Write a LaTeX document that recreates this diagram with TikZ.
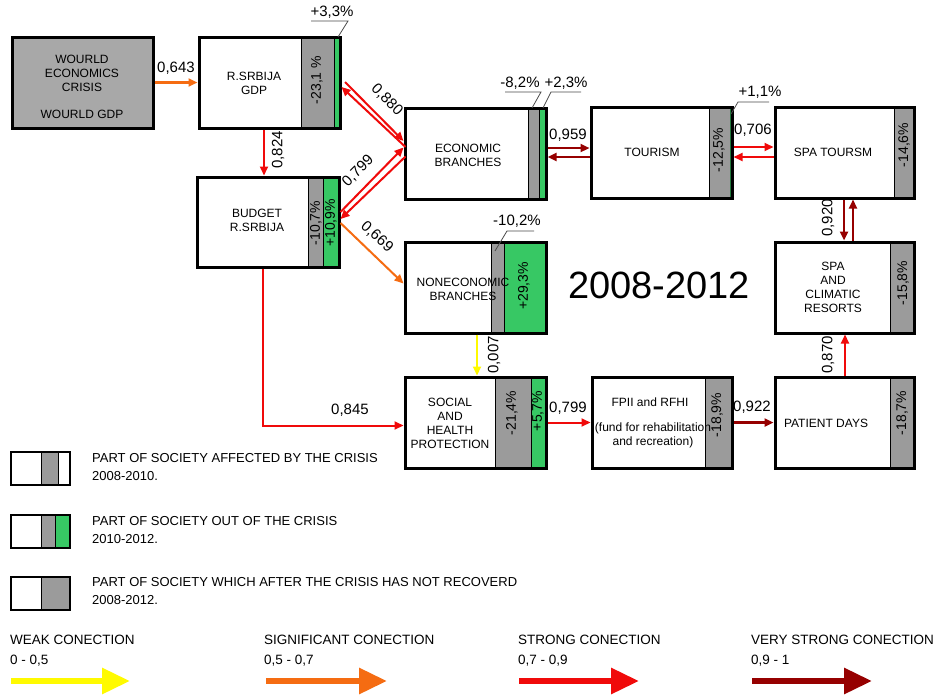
\documentclass[tikz,border=0pt]{standalone}
\usepackage{fontspec}
\setmainfont{Liberation Sans}
\usetikzlibrary{arrows.meta,calc}
\definecolor{yellowc}{RGB}{255,250,0}
\definecolor{orangec}{RGB}{245,108,18}
\definecolor{redc}{RGB}{240,10,10}
\definecolor{dredc}{RGB}{150,0,0}
\definecolor{greenc}{RGB}{55,200,100}
\definecolor{grayc}{RGB}{155,155,155}
\definecolor{wgray}{RGB}{168,168,168}
\begin{document}
\begin{tikzpicture}[x=1pt,y=-1pt,
  box/.style={draw=black, line width=3pt, rectangle, inner sep=0pt},
  btxt/.style={font=\fontsize{12}{14}\selectfont, align=center, inner sep=0pt},
  pct/.style={font=\fontsize{15}{17}\selectfont, inner sep=0pt},
  vpct/.style={font=\fontsize{14}{16}\selectfont, inner sep=0pt, rotate=90},
  clab/.style={font=\fontsize{15}{17}\selectfont, inner sep=0pt},
  vclab/.style={clab, rotate=90},
  ltxt/.style={font=\fontsize{13}{18}\selectfont, align=left, anchor=west, inner sep=0pt},
  btm/.style={font=\fontsize{13.5}{20}\selectfont, align=left, anchor=west, inner sep=0pt},
  lead/.style={line width=0.8pt, draw=black!70},
  divl/.style={line width=0.8pt, draw=black},
  weak/.style={draw=yellowc, line width=2pt, -{Triangle[length=9pt,width=8pt]}},
  signif/.style={draw=orangec, line width=2pt, -{Triangle[length=9pt,width=8pt]}},
  strongc/.style={draw=redc, line width=2pt, -{Triangle[length=9pt,width=8pt]}},
  vstrong/.style={draw=dredc, line width=2.5pt, -{Triangle[length=9pt,width=8pt]}},
  bigarrow/.style={line width=6pt, -{Triangle[length=28pt,width=25pt]}}
]
\useasboundingbox (0,0) rectangle (940,696);
\fill[white] (0,0) rectangle (940,696);

% ---------- strips ----------
% GDP
\fill[grayc] (301,37) rectangle (334,128);
\fill[greenc] (334,37) rectangle (340,128);
\draw[divl] (301,37) -- (301,128); \draw[divl] (334,37) -- (334,128);
% BUDGET
\fill[grayc] (308,177) rectangle (323,267);
\fill[greenc] (323,177) rectangle (339,267);
\draw[divl] (308,177) -- (308,267); \draw[divl] (323,177) -- (323,267);
% ECONOMIC
\fill[grayc] (528,108) rectangle (539,199);
\fill[greenc] (539,108) rectangle (546,199);
\draw[divl] (528,108) -- (528,199); \draw[divl] (539,108) -- (539,199);
% TOURISM
\fill[grayc] (709,107) rectangle (730,198);
\fill[greenc!60!black] (730,107) rectangle (732,198);
\draw[divl] (709,107) -- (709,198);
% SPA TOURISM
\fill[grayc] (894,107) rectangle (914,198);
\draw[divl] (894,107) -- (894,198);
% NONECONOMIC
\fill[grayc] (491,242) rectangle (504,333);
\fill[greenc] (504,242) rectangle (546,333);
\draw[divl] (491,242) -- (491,333); \draw[divl] (504,242) -- (504,333);
% CLIMATIC
\fill[grayc] (890,242) rectangle (914,333);
\draw[divl] (890,242) -- (890,333);
% SOCIAL
\fill[grayc] (495,377) rectangle (531,468);
\fill[greenc] (531,377) rectangle (546,468);
\draw[divl] (495,377) -- (495,468); \draw[divl] (531,377) -- (531,468);
% FPII
\fill[grayc] (705,377) rectangle (732,468);
\draw[divl] (705,377) -- (705,468);
% PATIENT
\fill[grayc] (890,377) rectangle (914,468);
\draw[divl] (890,377) -- (890,468);

% ---------- boxes ----------
\node[box, fill=wgray, minimum width=141pt, minimum height=91pt] (wc) at (82.5,82.5) {};
\node[box, minimum width=141pt, minimum height=91pt] (gdp) at (269.5,82.5) {};
\node[box, minimum width=142pt, minimum height=90pt] (bud) at (268,222) {};
\node[box, minimum width=141pt, minimum height=91pt] (eco) at (475.5,153.5) {};
\node[box, minimum width=141pt, minimum height=91pt] (tour) at (661.5,152.5) {};
\node[box, minimum width=139pt, minimum height=91pt] (spa) at (844.5,152.5) {};
\node[box, minimum width=141pt, minimum height=91pt] (non) at (475.5,287.5) {};
\node[box, minimum width=139pt, minimum height=91pt] (clim) at (844.5,287.5) {};
\node[box, minimum width=141pt, minimum height=91pt] (soc) at (475.5,422.5) {};
\node[box, minimum width=140pt, minimum height=91pt] (fpii) at (662,422.5) {};
\node[box, minimum width=139pt, minimum height=91pt] (pat) at (844.5,422.5) {};

% ---------- box texts ----------
\node[btxt] (wcT) at (82,73) {WOURLD\\ECONOMICS\\CRISIS};
\node[btxt] (wcG) at (82,114) {WOURLD GDP};
\node[btxt] (gdpT) at (254,83) {R.SRBIJA\\GDP};
\node[btxt] (budT) at (257,220) {BUDGET\\R.SRBIJA};
\node[btxt] (ecoT) at (468,155) {ECONOMIC\\BRANCHES};
\node[btxt] (tourT) at (652,152) {TOURISM};
\node[btxt] (spaT) at (833,152) {SPA TOURSM};
\node[btxt] (nonT) at (463,289) {NONECONOMIC\\BRANCHES};
\node[btxt] (climT) at (833,287) {SPA\\AND\\CLIMATIC\\RESORTS};
\node[btxt] (socT) at (450,423) {SOCIAL\\AND\\HEALTH\\PROTECTION};
\node[btxt] (fpiiT) at (650,402) {FPII and RFHI};
\node[btxt] (fpiiS) at (653,435) {(fund for rehabilitation\\and recreation)};
\node[btxt] (patT) at (826,423) {PATIENT DAYS};

% ---------- percentages in strips ----------
\node[vpct] (p1) at (317,80) {-23,1 \%};
\node[vpct] (p2) at (316,223) {-10,7\%};
\node[vpct] (p3) at (331,223) {+10,9\%};
\node[vpct] (p4) at (719,150) {-12,5\%};
\node[vpct] (p5) at (904,145) {-14,6\%};
\node[vpct] (p6) at (524,286) {+29,3\%};
\node[vpct] (p7) at (903,283) {-15,8\%};
\node[vpct] (p8) at (512,413) {-21,4\%};
\node[vpct] (p9) at (538,411) {+5,7\%};
\node[vpct] (p10) at (717,415) {-18,9\%};
\node[vpct] (p11) at (902,413) {-18,7\%};

% ---------- callout percentages ----------
\node[pct] (c1) at (332,12) {+3,3\%};
\draw[lead] (311,21) -- (348,21) -- (338,37);
\node[pct] (c2) at (520,83) {-8,2\%};
\draw[lead] (505,92) -- (541,92) -- (532,108);
\node[pct] (c3) at (566,83) {+2,3\%};
\draw[lead] (581,92) -- (551,92) -- (543,108);
\node[pct] (c4) at (760,92) {+1,1\%};
\draw[lead] (769,102) -- (738,102) -- (731,114);
\node[pct] (c5) at (517,221) {-10,2\%};
\draw[lead] (534,231) -- (507,231) -- (495,251);

% ---------- connectors ----------
\draw[signif, line width=3pt] (wc.east) -- (gdp.west);
\draw[strongc] ($(gdp.south)+(-5.5,0)$) -- ($(bud.north)+(-4,0)$);
\draw[strongc] ($(gdp.east)+(3.5,-0.5)$) -- ($(eco.west)+(0,-12.5)$);
\draw[strongc] ($(eco.west)+(2,-6.5)$) -- ($(gdp.east)+(0,4.5)$);
\draw[strongc] ($(bud.east)+(0,-10)$) -- ($(eco.west)+(0,-6)$);
\draw[strongc] ($(eco.west)+(2,3)$) -- ($(bud.east)+(0,-3)$);
\draw[signif] ($(bud.east)+(0,1)$) -- ($(non.west)+(0,-4)$);
\draw[strongc] ($(bud.south)+(-5,0)$) |- ($(soc.west)+(0,3)$);
\draw[vstrong] ($(eco.east)+(0,-5.5)$) -- ($(tour.west)+(0,-4.5)$);
\draw[vstrong] ($(tour.west)+(0,4.5)$) -- ($(eco.east)+(0,3.5)$);
\draw[strongc] ($(tour.east)+(0,-5.5)$) -- ($(spa.west)+(0,-5.5)$);
\draw[strongc] ($(spa.west)+(0,4.5)$) -- ($(tour.east)+(0,4.5)$);
\draw[vstrong] ($(spa.south)+(-0.5,0)$) -- ($(clim.north)+(-0.5,0)$);
\draw[vstrong, line width=2pt] ($(clim.north)+(8.5,0)$) -- ($(spa.south)+(8.5,0)$);
\draw[strongc] ($(pat.north)+(0.5,0)$) -- ($(clim.south)+(0.5,0)$);
\draw[weak] ($(non.south)+(1.5,0)$) -- ($(soc.north)+(1.5,0)$);
\draw[strongc] (soc.east) -- (fpii.west);
\draw[vstrong] (fpii.east) -- (pat.west);

% ---------- connector labels ----------
\node[clab] (k1) at (176,68) {0,643};
\node[vclab] (k2) at (278,150) {0,824};
\node[clab, rotate=-45] (k3) at (387,100) {0,880};
\node[clab, rotate=45] (k4) at (358,171) {0,799};
\node[clab, rotate=-42] (k5) at (377,237) {0,669};
\node[clab] (k6) at (350,410) {0,845};
\node[clab] (k7) at (568,135) {0,959};
\node[clab] (k8) at (753,130) {0,706};
\node[vclab] (k9) at (828,218) {0,920};
\node[vclab] (k10) at (828,355) {0,870};
\node[vclab] (k11) at (494,355) {0,007};
\node[clab] (k12) at (568,408) {0,799};
\node[clab] (k13) at (752,407) {0,922};

% ---------- year ----------
\node[font=\fontsize{38}{42}\selectfont, inner sep=0pt] (yr) at (659,285) {2008-2012};

% ---------- legend boxes ----------
\fill[grayc] (41,452) rectangle (58,485);
\draw[divl] (41,452) -- (41,485); \draw[divl] (58,452) -- (58,485);
\draw[line width=1.2pt] (11,452) rectangle (70,485);
\node[ltxt] (lg1) at (92,467) {PART OF SOCIETY AFFECTED BY THE CRISIS\\2008-2010.};

\fill[grayc] (41,515) rectangle (55,548);
\fill[greenc] (55,515) rectangle (70,548);
\draw[divl] (41,515) -- (41,548); \draw[divl] (55,515) -- (55,548);
\draw[line width=1.2pt] (11,515) rectangle (70,548);
\node[ltxt] (lg2) at (92,530) {PART OF SOCIETY OUT OF THE CRISIS\\2010-2012.};

\fill[grayc] (41,577) rectangle (70,610);
\draw[divl] (41,577) -- (41,610);
\draw[line width=1.2pt] (11,577) rectangle (70,610);
\draw[line width=2pt] (70,577) -- (70,610);
\node[ltxt] (lg3) at (92,591) {PART OF SOCIETY WHICH AFTER THE CRISIS HAS NOT RECOVERD\\2008-2012.};

% ---------- connection legend ----------
\node[btm] (w1) at (10,651) {WEAK CONECTION\\0 - 0,5};
\node[btm] (w2) at (264,651) {SIGNIFICANT CONECTION\\0,5 - 0,7};
\node[btm] (w3) at (518,651) {STRONG CONECTION\\0,7 - 0,9};
\node[btm] (w4) at (751,651) {VERY STRONG CONECTION\\0,9 - 1};
\coordinate (a1s) at (11,681); \coordinate (a1e) at (130,681);
\coordinate (a2s) at (266,681); \coordinate (a2e) at (387,681);
\coordinate (a3s) at (519,681); \coordinate (a3e) at (639,681);
\coordinate (a4s) at (752,681); \coordinate (a4e) at (872,681);
\draw[bigarrow, draw=yellowc, fill=yellowc] (a1s) -- (a1e);
\draw[bigarrow, draw=orangec, fill=orangec] (a2s) -- (a2e);
\draw[bigarrow, draw=redc, fill=redc] (a3s) -- (a3e);
\draw[bigarrow, draw=dredc, fill=dredc] (a4s) -- (a4e);
\end{tikzpicture}
\end{document}
